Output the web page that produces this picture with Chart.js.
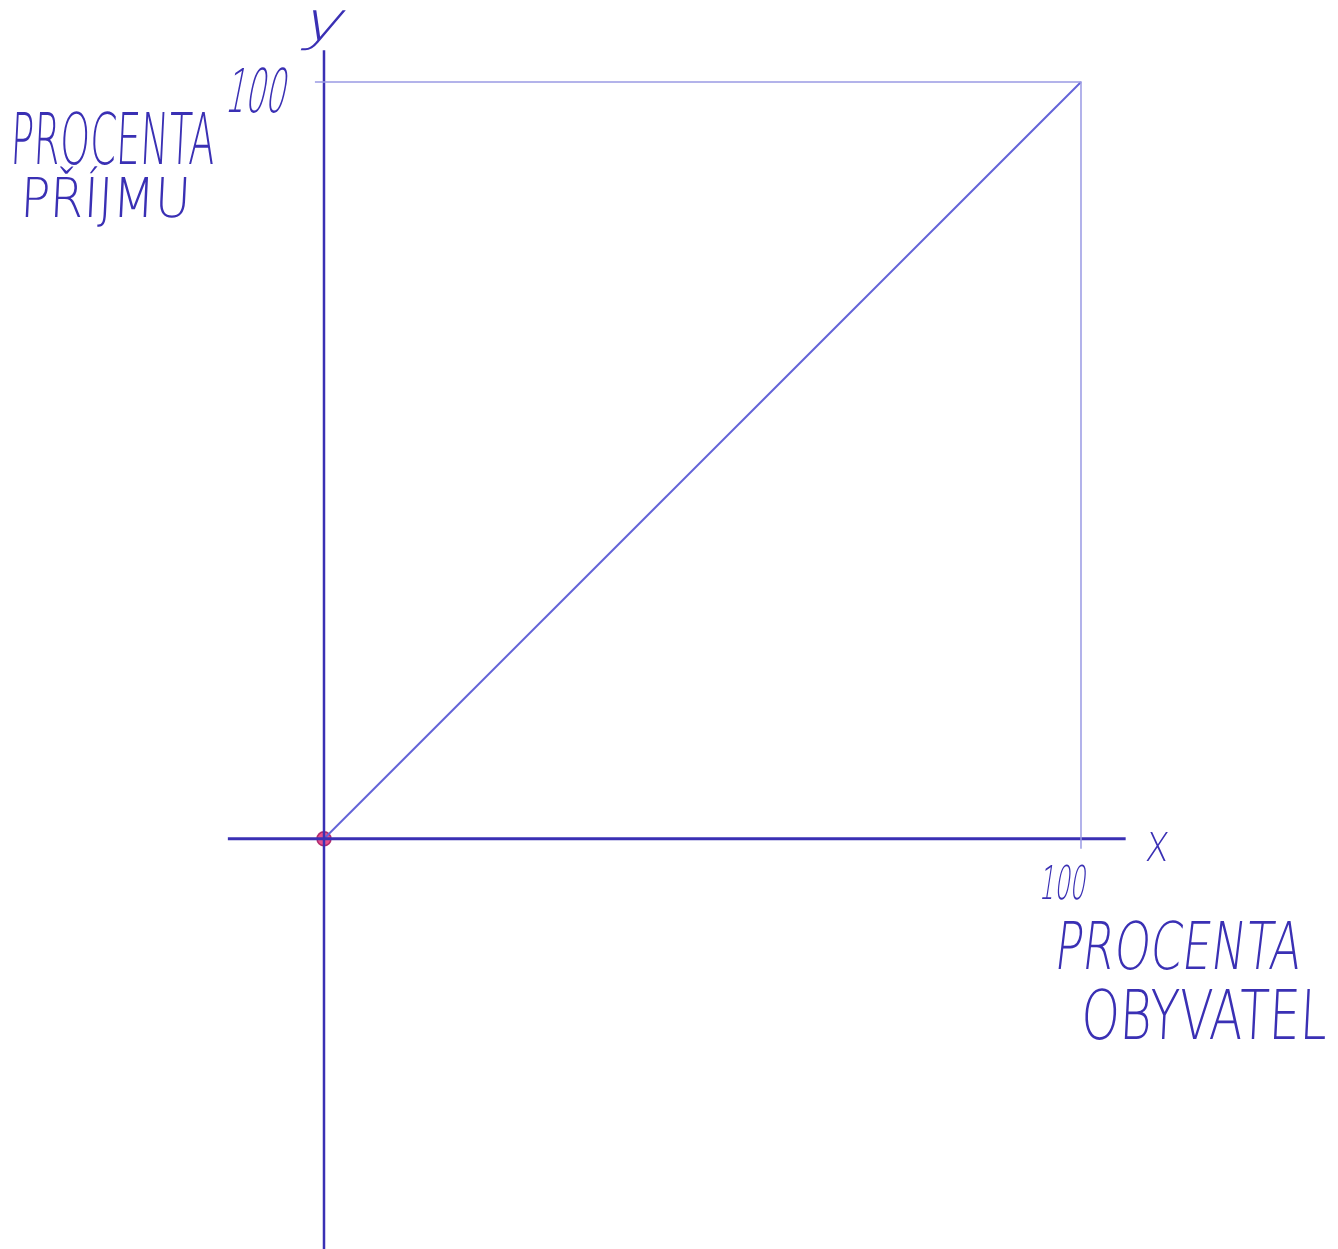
<!DOCTYPE html>
<html>
<head>
<meta charset="utf-8">
<script src="https://cdn.jsdelivr.net/npm/chart.js@4/dist/chart.umd.min.js"></script>
<style>
html,body{margin:0;padding:0;background:#fff;overflow:hidden;}
#wrap{width:1338px;height:1249px;position:relative;}
</style>
</head>
<body>
<div id="wrap"><canvas id="lorenz"></canvas></div>
<script>
// ===== data (percent units) =====
const EQUALITY_X=[0,100];
const EQUALITY_Y=[0,100];
const FRAME_X=[-1.2,100,100];
const FRAME_Y=[100,100,-1.3];
const X_AXIS_X=[-12.7,105.9];
const Y_AXIS_Y=[-60,104.2];
const ORIGIN=[{x:0,y:0}];
const Y_TITLE=['PROCENTA','PŘÍJMU'];
const X_TITLE=['PROCENTA','OBYVATEL'];
const TICK_LABEL='100';

const INK='#3a30b4',INK_LIGHT='#6464d8',INK_FAINT='#9a9ae4';
const pts=(xs,ys)=>xs.map((x,i)=>({x,y:ys[i]}));

// handwritten-ish text squeezed into a box given in data units (left/top) + pixel size, slant = manual skew
const textPlugin={
  id:'labels',
  afterDatasetsDraw(chart){
    const {ctx,scales:{x,y}}=chart;
    const put=(txt,vx,vy,w,h,slant,cap=0.73)=>{
      const px=x.getPixelForValue(vx),py=y.getPixelForValue(vy);
      const fs=h/cap;
      ctx.save();ctx.font=`200 ${fs}px "DejaVu Sans",sans-serif`;
      const m=ctx.measureText(txt).width;
      ctx.translate(px,py+h);ctx.transform(1,0,-slant,1,0,0);ctx.scale(w/m,1);
      ctx.fillStyle=INK;ctx.textBaseline='alphabetic';ctx.fillText(txt,0,0);ctx.restore();
    };
    put('y',-3.3,109.5,40,30,0.35,0.55);
    put(TICK_LABEL,-13.2,101.9,60,44,0.2);
    put(Y_TITLE[0],-41.5,96.0,204,52,0.05);
    put(Y_TITLE[1],-40.2,87.5,170,40,0.05);
    put('X',108.4,0.9,23,29,0.1);
    put(TICK_LABEL,94.4,-3.5,46,34,0.15);
    put(X_TITLE[0],96.3,-10.8,246,48,0.12);
    put(X_TITLE[1],99.9,-19.8,246,50,0.05);
  }
};

const line=(data,color,w)=>({data,borderColor:color,borderWidth:w,pointRadius:0,showLine:true,fill:false,tension:0});

new Chart(document.getElementById('lorenz'),{
  type:'scatter',
  data:{datasets:[
    line(pts(FRAME_X,FRAME_Y),INK_FAINT,1.5),
    line(pts(X_AXIS_X,[0,0]),INK,3),
    line(pts([0,0],Y_AXIS_Y),INK,2.5),
    line(pts(EQUALITY_X,EQUALITY_Y),INK_LIGHT,2),
    {data:ORIGIN,pointRadius:7,pointBackgroundColor:'rgba(228,50,120,0.85)',pointBorderColor:'rgba(170,30,100,0.9)',pointBorderWidth:1.5}
  ]},
  options:{
    responsive:true,maintainAspectRatio:false,animation:false,
    layout:{padding:0,autoPadding:false},
    plugins:{legend:{display:false},tooltip:{enabled:false}},
    scales:{
      x:{type:'linear',min:-42.8,max:133.95,display:false},
      y:{type:'linear',min:-54.2,max:110.83,display:false}
    }
  },
  plugins:[textPlugin]
});
</script>
</body>
</html>
